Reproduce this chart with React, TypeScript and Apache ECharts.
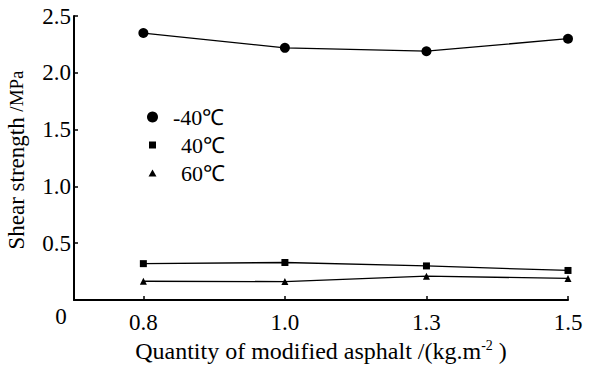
import React, { useEffect, useRef } from "react";
import * as echarts from "echarts";

const categories = ["0.8", "1.0", "1.3", "1.5"];
const seriesNames = ["-40℃", "40℃", "60℃"];
const valuesMinus40 = [2.35, 2.22, 2.19, 2.3];
const values40 = [0.32, 0.33, 0.3, 0.26];
const values60 = [0.165, 0.162, 0.21, 0.19];
const symbols = ["circle", "rect", "triangle"];
const symbolSizes = [10, 7, 7];
const legendIcons = [
  "circle",
  "path://M0,0 M11,11 M2,2 L9,2 L9,9 L2,9 Z",
  "path://M0,0 M11,11 M5.5,2 L9.5,9 L1.5,9 Z",
];
const legendIndent = [10, 18, 18];

const FONT = "'Liberation Serif', 'Times New Roman', serif";

export default function App() {
  const ref = useRef<HTMLDivElement>(null);
  useEffect(() => {
    if (!ref.current) return;
    const chart = echarts.init(ref.current, undefined, { renderer: "svg" });
    const all = [valuesMinus40, values40, values60];
    const series = all.map((vals, si) => ({
      name: seriesNames[si],
      type: "line",
      data: vals.map((v, i) => [i, v]),
      symbol: symbols[si],
      symbolSize: symbolSizes[si],
      itemStyle: { color: "#000" },
      lineStyle: { color: "#000", width: 1.3 },
    }));
    chart.setOption({
      animation: false,
      backgroundColor: "#fff",
      textStyle: { fontFamily: FONT, color: "#000" },
      grid: { left: 74, right: 32, top: 16, bottom: 81, containLabel: false },
      legend: {
        orient: "vertical",
        left: 142,
        top: 101,
        itemGap: 6,
        itemWidth: 11,
        itemHeight: 11,
        data: seriesNames.map((n, i) => ({
          name: n,
          icon: legendIcons[i],
          textStyle: { fontFamily: FONT, fontSize: 22, color: "#000", padding: [0, 0, 0, legendIndent[i]] },
        })),
        textStyle: { fontFamily: FONT, fontSize: 22, color: "#000" },
      },
      xAxis: {
        type: "value",
        min: -0.49,
        max: 3,
        splitLine: { show: false },
        axisLine: { onZero: false, lineStyle: { color: "#000", width: 2 } },
        axisTick: { inside: true, length: 4, customValues: [0, 1, 2, 3], lineStyle: { color: "#000", width: 1.5 } },
        axisLabel: {
          customValues: [0, 1, 2, 3],
          formatter: (v: number) => categories[Math.round(v)] ?? "",
          fontFamily: FONT,
          fontSize: 23,
          color: "#000",
          margin: 11,
        },
        name: "Quantity of modified asphalt /(kg.m{sup|-2} )",
        nameLocation: "middle",
        nameGap: 32,
        nameTextStyle: {
          fontFamily: FONT,
          fontSize: 24,
          color: "#000",
          rich: {
            sup: { fontFamily: FONT, fontSize: 14, color: "#000", verticalAlign: "top", padding: [0, 0, 10, 0] },
          },
        },
      },
      yAxis: {
        type: "value",
        min: 0,
        max: 2.5,
        interval: 0.5,
        splitLine: { show: false },
        axisLine: { show: true, onZero: false, lineStyle: { color: "#000", width: 2 } },
        axisTick: { show: true, inside: true, length: 4, lineStyle: { color: "#000", width: 1.5 } },
        axisLabel: {
          showMinLabel: false,
          formatter: (v: number) => v.toFixed(1),
          fontFamily: FONT,
          fontSize: 23,
          color: "#000",
          margin: 3,
        },
      },
      graphic: [
        {
          type: "text",
          x: 61,
          y: 316,
          style: { text: "0", font: `23px ${FONT}`, fill: "#000", align: "center", verticalAlign: "middle" },
        },
        {
          type: "text",
          x: 16,
          y: 160,
          rotation: Math.PI / 2,
          style: {
            text: "Shear strength {s|/MPa}",
            font: `23px ${FONT}`,
            fill: "#000",
            align: "center",
            verticalAlign: "middle",
            rich: { s: { font: `19px ${FONT}`, fill: "#000" } },
          },
        },
      ],
      series,
    });
    return () => chart.dispose();
  }, []);
  return <div ref={ref} style={{ width: 600, height: 381, position: "absolute", left: 0, top: 0 }} />;
}
